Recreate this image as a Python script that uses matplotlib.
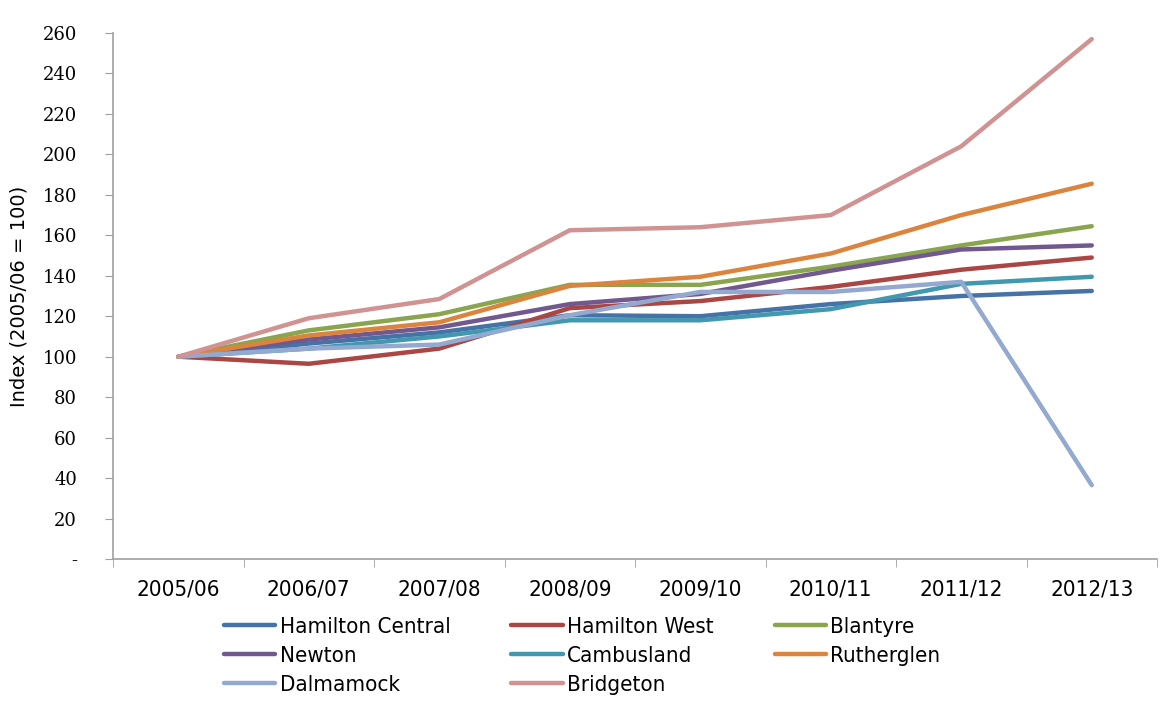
import matplotlib
matplotlib.use('Agg')
import matplotlib.pyplot as plt
from matplotlib.ticker import FixedLocator, FuncFormatter
import numpy as np

years = ['2005/06', '2006/07', '2007/08', '2008/09', '2009/10', '2010/11', '2011/12', '2012/13']

hamilton_central = [100, 106.5, 112, 120.5, 120, 126, 130, 132.5]
hamilton_west = [100, 96.5, 104, 124, 127.5, 134.5, 143, 149]
blantyre = [100, 113, 121, 135.5, 135.5, 144.5, 155, 164.5]
newton = [100, 108.5, 114.5, 126, 131, 142.5, 153, 155]
cambusland = [100, 104, 110, 118, 118, 123.5, 136, 139.5]
rutherglen = [100, 110.5, 117, 135, 139.5, 151, 170, 185.5]
dalmamock = [100, 104, 106, 120.5, 132, 132, 137, 36.5]
bridgeton = [100, 119, 128.5, 162.5, 164, 170, 204, 257]

series = [
    ('Hamilton Central', hamilton_central, '#4572A7'),
    ('Hamilton West', hamilton_west, '#AA4643'),
    ('Blantyre', blantyre, '#89A54E'),
    ('Newton', newton, '#71588F'),
    ('Cambusland', cambusland, '#4198AF'),
    ('Rutherglen', rutherglen, '#DB843D'),
    ('Dalmamock', dalmamock, '#93A9CF'),
    ('Bridgeton', bridgeton, '#D19392'),
]

narrow = {'family': 'DejaVu Sans', 'stretch': 'condensed', 'size': 16}

fig = plt.figure(figsize=(11.71, 7.11), dpi=100)
ax = fig.add_axes([113 / 1171, 152 / 711, (1157 - 113) / 1171, (559 - 33) / 711])

x = np.arange(len(years))
lines = []
for name, vals, color in series:
    ln, = ax.plot(x, vals, color=color, lw=3.2, label=name, solid_capstyle='round')
    lines.append(ln)

ax.set_xlim(-0.5, len(years) - 0.5)
ax.set_ylim(0, 260)
ax.yaxis.set_major_locator(FixedLocator(np.arange(0, 261, 20)))
ax.yaxis.set_major_formatter(FuncFormatter(lambda v, p: '-' if v == 0 else '%d' % v))
ax.set_xticks(x)
ax.set_xticklabels(years, fontdict=narrow)
ax.set_xticks(np.arange(-0.5, len(years)), minor=True)
ax.tick_params(axis='x', which='major', length=0, pad=15)
ax.tick_params(axis='x', which='minor', length=6, color='#a0a0a0', direction='out')
ax.tick_params(axis='y', length=6, color='#a0a0a0', direction='out', labelsize=13, pad=20)
for lbl in ax.get_yticklabels():
    lbl.set_fontfamily('DejaVu Serif')

for s in ['top', 'right']:
    ax.spines[s].set_visible(False)
for s in ['left', 'bottom']:
    ax.spines[s].set_color('#a0a0a0')
    ax.spines[s].set_linewidth(1.2)

ax.set_ylabel('Index (2005/06 = 100)', fontsize=14, labelpad=10)

# legend fills row by row in the reference
order = [0, 3, 6, 1, 4, 7, 2, 5]
ax.legend([lines[i] for i in order], [series[i][0] for i in order],
          loc='upper left', bbox_to_anchor=(224 / 1171, 1 - 617 / 711), bbox_transform=fig.transFigure,
          ncol=3, frameon=False, prop=narrow,
          handlelength=2.3, handletextpad=0.2, columnspacing=2.75, labelspacing=0.4,
          borderaxespad=0, borderpad=0)

plt.savefig('out.png', dpi=100)
